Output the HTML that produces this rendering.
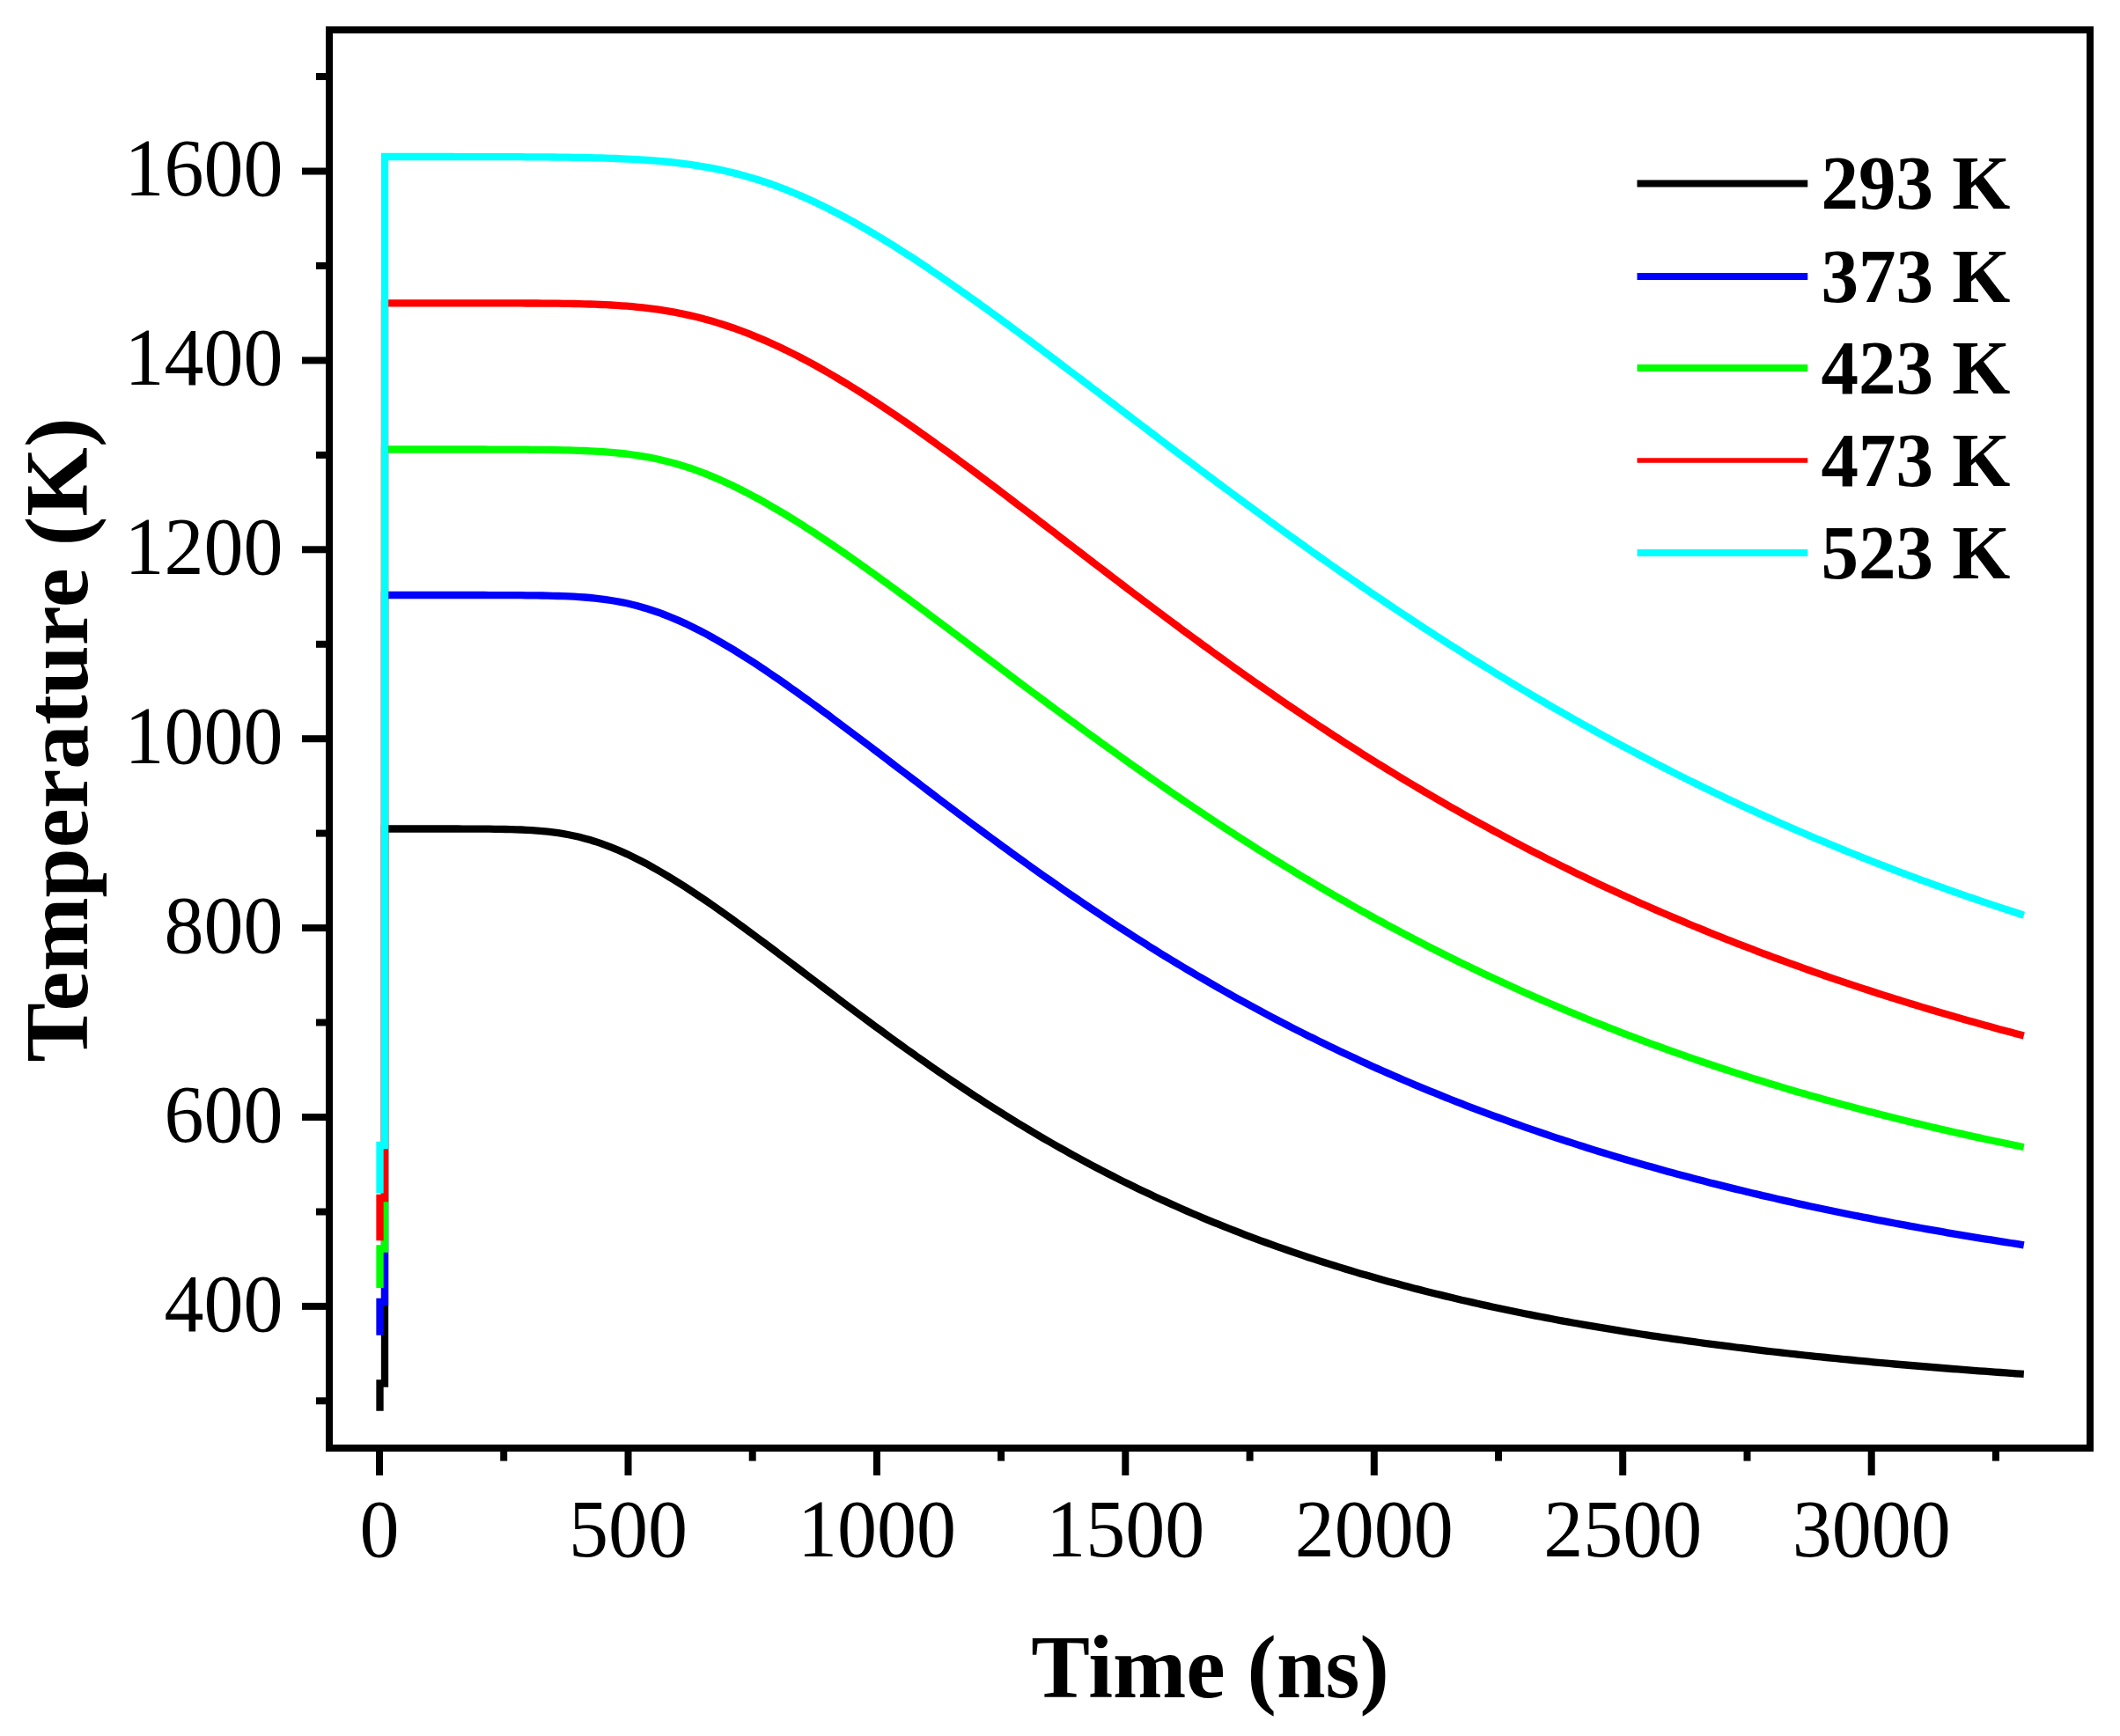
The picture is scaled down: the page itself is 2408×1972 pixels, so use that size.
<!DOCTYPE html>
<html><head><meta charset="utf-8"><title>Temperature vs Time</title>
<style>
html,body{margin:0;padding:0;background:#fff;}
body{width:2408px;height:1972px;overflow:hidden;}
svg{display:block;}
text{font-family:"Liberation Serif",serif;fill:#000;}
.tick{font-size:90px;}
.title{font-size:100px;font-weight:bold;}
.leg{font-size:85px;font-weight:bold;}
</style></head><body>
<svg width="2408" height="1972" viewBox="0 0 2408 1972">
<rect x="0" y="0" width="2408" height="1972" fill="#ffffff"/>
<path d="M431.5,1602.7 L431.5,1571.5 L437,1571.5 L437,941.5 L460.0,941.5 L466.0,941.5 L472.0,941.5 L478.0,941.5 L484.0,941.5 L490.0,941.5 L496.0,941.5 L502.0,941.5 L508.0,941.5 L514.0,941.5 L520.0,941.5 L526.0,941.6 L532.0,941.6 L538.0,941.6 L544.0,941.6 L550.0,941.7 L556.0,941.7 L562.0,941.8 L568.0,941.9 L574.0,942.0 L580.0,942.1 L586.0,942.3 L592.0,942.5 L598.0,942.8 L604.0,943.1 L610.0,943.6 L616.0,944.1 L622.0,944.7 L628.0,945.4 L634.0,946.2 L640.0,947.1 L646.0,948.2 L652.0,949.5 L658.0,950.8 L664.0,952.4 L670.0,954.1 L676.0,955.9 L682.0,957.9 L688.0,960.1 L694.0,962.4 L700.0,964.8 L706.0,967.4 L712.0,970.1 L718.0,973.0 L724.0,976.0 L730.0,979.0 L736.0,982.2 L742.0,985.6 L748.0,989.0 L754.0,992.5 L760.0,996.1 L766.0,999.7 L772.0,1003.5 L778.0,1007.3 L784.0,1011.2 L790.0,1015.2 L796.0,1019.2 L802.0,1023.3 L808.0,1027.4 L814.0,1031.6 L820.0,1035.9 L826.0,1040.1 L832.0,1044.4 L838.0,1048.8 L844.0,1053.2 L850.0,1057.6 L856.0,1062.0 L862.0,1066.5 L868.0,1070.9 L874.0,1075.4 L880.0,1079.9 L886.0,1084.5 L892.0,1089.0 L898.0,1093.5 L904.0,1098.1 L910.0,1102.6 L916.0,1107.2 L922.0,1111.8 L928.0,1116.3 L934.0,1120.9 L940.0,1125.4 L946.0,1129.9 L952.0,1134.5 L958.0,1139.0 L964.0,1143.5 L970.0,1148.0 L976.0,1152.5 L982.0,1156.9 L988.0,1161.4 L994.0,1165.8 L1000.0,1170.2 L1006.0,1174.6 L1012.0,1179.0 L1018.0,1183.3 L1024.0,1187.7 L1030.0,1192.0 L1036.0,1196.2 L1042.0,1200.5 L1048.0,1204.7 L1054.0,1208.9 L1060.0,1213.1 L1066.0,1217.2 L1072.0,1221.4 L1078.0,1225.4 L1084.0,1229.5 L1090.0,1233.5 L1096.0,1237.5 L1102.0,1241.5 L1108.0,1245.4 L1114.0,1249.3 L1120.0,1253.2 L1126.0,1257.0 L1132.0,1260.8 L1138.0,1264.6 L1144.0,1268.3 L1150.0,1272.0 L1156.0,1275.7 L1162.0,1279.3 L1168.0,1282.9 L1174.0,1286.5 L1180.0,1290.1 L1186.0,1293.6 L1192.0,1297.0 L1198.0,1300.5 L1204.0,1303.9 L1210.0,1307.2 L1216.0,1310.6 L1222.0,1313.9 L1228.0,1317.1 L1234.0,1320.4 L1240.0,1323.6 L1246.0,1326.7 L1252.0,1329.9 L1258.0,1333.0 L1264.0,1336.0 L1270.0,1339.1 L1276.0,1342.1 L1282.0,1345.0 L1288.0,1348.0 L1294.0,1350.9 L1300.0,1353.7 L1306.0,1356.6 L1312.0,1359.4 L1318.0,1362.2 L1324.0,1364.9 L1330.0,1367.6 L1336.0,1370.3 L1342.0,1373.0 L1348.0,1375.6 L1354.0,1378.2 L1360.0,1380.8 L1366.0,1383.3 L1372.0,1385.8 L1378.0,1388.3 L1384.0,1390.7 L1390.0,1393.1 L1396.0,1395.5 L1402.0,1397.9 L1408.0,1400.2 L1414.0,1402.5 L1420.0,1404.8 L1426.0,1407.1 L1432.0,1409.3 L1438.0,1411.5 L1444.0,1413.7 L1450.0,1415.8 L1456.0,1417.9 L1462.0,1420.0 L1468.0,1422.1 L1474.0,1424.1 L1480.0,1426.2 L1486.0,1428.2 L1492.0,1430.1 L1498.0,1432.1 L1504.0,1434.0 L1510.0,1435.9 L1516.0,1437.8 L1522.0,1439.6 L1528.0,1441.5 L1534.0,1443.3 L1540.0,1445.1 L1546.0,1446.9 L1552.0,1448.6 L1558.0,1450.3 L1564.0,1452.0 L1570.0,1453.7 L1576.0,1455.4 L1582.0,1457.0 L1588.0,1458.6 L1594.0,1460.2 L1600.0,1461.8 L1606.0,1463.4 L1612.0,1464.9 L1618.0,1466.5 L1624.0,1468.0 L1630.0,1469.5 L1636.0,1470.9 L1642.0,1472.4 L1648.0,1473.8 L1654.0,1475.2 L1660.0,1476.7 L1666.0,1478.0 L1672.0,1479.4 L1678.0,1480.8 L1684.0,1482.1 L1690.0,1483.4 L1696.0,1484.7 L1702.0,1486.0 L1708.0,1487.3 L1714.0,1488.5 L1720.0,1489.8 L1726.0,1491.0 L1732.0,1492.2 L1738.0,1493.4 L1744.0,1494.6 L1750.0,1495.8 L1756.0,1496.9 L1762.0,1498.0 L1768.0,1499.2 L1774.0,1500.3 L1780.0,1501.4 L1786.0,1502.5 L1792.0,1503.5 L1798.0,1504.6 L1804.0,1505.6 L1810.0,1506.7 L1816.0,1507.7 L1822.0,1508.7 L1828.0,1509.7 L1834.0,1510.7 L1840.0,1511.7 L1846.0,1512.6 L1852.0,1513.6 L1858.0,1514.5 L1864.0,1515.5 L1870.0,1516.4 L1876.0,1517.3 L1882.0,1518.2 L1888.0,1519.1 L1894.0,1519.9 L1900.0,1520.8 L1906.0,1521.7 L1912.0,1522.5 L1918.0,1523.4 L1924.0,1524.2 L1930.0,1525.0 L1936.0,1525.8 L1942.0,1526.6 L1948.0,1527.4 L1954.0,1528.2 L1960.0,1528.9 L1966.0,1529.7 L1972.0,1530.5 L1978.0,1531.2 L1984.0,1531.9 L1990.0,1532.7 L1996.0,1533.4 L2002.0,1534.1 L2008.0,1534.8 L2014.0,1535.5 L2020.0,1536.2 L2026.0,1536.8 L2032.0,1537.5 L2038.0,1538.2 L2044.0,1538.8 L2050.0,1539.5 L2056.0,1540.1 L2062.0,1540.8 L2068.0,1541.4 L2074.0,1542.0 L2080.0,1542.6 L2086.0,1543.2 L2092.0,1543.8 L2098.0,1544.4 L2104.0,1545.0 L2110.0,1545.6 L2116.0,1546.1 L2122.0,1546.7 L2128.0,1547.3 L2134.0,1547.8 L2140.0,1548.4 L2146.0,1548.9 L2152.0,1549.5 L2158.0,1550.0 L2164.0,1550.5 L2170.0,1551.0 L2176.0,1551.5 L2182.0,1552.0 L2188.0,1552.5 L2194.0,1553.0 L2200.0,1553.5 L2206.0,1554.0 L2212.0,1554.5 L2218.0,1555.0 L2224.0,1555.4 L2230.0,1555.9 L2236.0,1556.4 L2242.0,1556.8 L2248.0,1557.3 L2254.0,1557.7 L2260.0,1558.2 L2266.0,1558.6 L2272.0,1559.0 L2278.0,1559.4 L2284.0,1559.9 L2290.0,1560.3 L2296.0,1560.7 L2298.8,1560.9" fill="none" stroke="#000000" stroke-width="8.3" stroke-linejoin="miter" stroke-linecap="butt"/>
<path d="M431.5,1516.7 L431.5,1479.0 L437,1479.0 L437,676.0 L460.0,676.0 L466.0,676.0 L472.0,676.0 L478.0,676.0 L484.0,676.0 L490.0,676.0 L496.0,676.0 L502.0,676.0 L508.0,676.0 L514.0,676.0 L520.0,676.0 L526.0,676.0 L532.0,676.0 L538.0,676.0 L544.0,676.0 L550.0,676.0 L556.0,676.1 L562.0,676.1 L568.0,676.1 L574.0,676.1 L580.0,676.1 L586.0,676.2 L592.0,676.2 L598.0,676.3 L604.0,676.3 L610.0,676.4 L616.0,676.5 L622.0,676.6 L628.0,676.8 L634.0,677.0 L640.0,677.2 L646.0,677.4 L652.0,677.7 L658.0,678.1 L664.0,678.5 L670.0,679.0 L676.0,679.6 L682.0,680.3 L688.0,681.1 L694.0,682.0 L700.0,683.0 L706.0,684.1 L712.0,685.3 L718.0,686.7 L724.0,688.2 L730.0,689.9 L736.0,691.7 L742.0,693.7 L748.0,695.7 L754.0,698.0 L760.0,700.3 L766.0,702.8 L772.0,705.4 L778.0,708.1 L784.0,711.0 L790.0,714.0 L796.0,717.0 L802.0,720.2 L808.0,723.5 L814.0,726.8 L820.0,730.3 L826.0,733.8 L832.0,737.4 L838.0,741.1 L844.0,744.9 L850.0,748.7 L856.0,752.6 L862.0,756.5 L868.0,760.5 L874.0,764.6 L880.0,768.7 L886.0,772.8 L892.0,777.0 L898.0,781.3 L904.0,785.5 L910.0,789.8 L916.0,794.2 L922.0,798.5 L928.0,802.9 L934.0,807.3 L940.0,811.7 L946.0,816.2 L952.0,820.7 L958.0,825.2 L964.0,829.7 L970.0,834.2 L976.0,838.7 L982.0,843.3 L988.0,847.8 L994.0,852.4 L1000.0,856.9 L1006.0,861.5 L1012.0,866.1 L1018.0,870.7 L1024.0,875.2 L1030.0,879.8 L1036.0,884.4 L1042.0,888.9 L1048.0,893.5 L1054.0,898.1 L1060.0,902.6 L1066.0,907.2 L1072.0,911.7 L1078.0,916.2 L1084.0,920.7 L1090.0,925.2 L1096.0,929.7 L1102.0,934.2 L1108.0,938.7 L1114.0,943.1 L1120.0,947.6 L1126.0,952.0 L1132.0,956.4 L1138.0,960.8 L1144.0,965.2 L1150.0,969.6 L1156.0,973.9 L1162.0,978.2 L1168.0,982.5 L1174.0,986.8 L1180.0,991.1 L1186.0,995.3 L1192.0,999.5 L1198.0,1003.7 L1204.0,1007.9 L1210.0,1012.1 L1216.0,1016.2 L1222.0,1020.3 L1228.0,1024.4 L1234.0,1028.5 L1240.0,1032.5 L1246.0,1036.5 L1252.0,1040.5 L1258.0,1044.5 L1264.0,1048.4 L1270.0,1052.4 L1276.0,1056.3 L1282.0,1060.1 L1288.0,1064.0 L1294.0,1067.8 L1300.0,1071.6 L1306.0,1075.4 L1312.0,1079.1 L1318.0,1082.9 L1324.0,1086.6 L1330.0,1090.2 L1336.0,1093.9 L1342.0,1097.5 L1348.0,1101.1 L1354.0,1104.6 L1360.0,1108.2 L1366.0,1111.7 L1372.0,1115.2 L1378.0,1118.7 L1384.0,1122.1 L1390.0,1125.5 L1396.0,1128.9 L1402.0,1132.3 L1408.0,1135.6 L1414.0,1138.9 L1420.0,1142.2 L1426.0,1145.4 L1432.0,1148.7 L1438.0,1151.9 L1444.0,1155.1 L1450.0,1158.2 L1456.0,1161.4 L1462.0,1164.5 L1468.0,1167.6 L1474.0,1170.6 L1480.0,1173.6 L1486.0,1176.7 L1492.0,1179.6 L1498.0,1182.6 L1504.0,1185.5 L1510.0,1188.4 L1516.0,1191.3 L1522.0,1194.2 L1528.0,1197.0 L1534.0,1199.8 L1540.0,1202.6 L1546.0,1205.4 L1552.0,1208.1 L1558.0,1210.9 L1564.0,1213.6 L1570.0,1216.2 L1576.0,1218.9 L1582.0,1221.5 L1588.0,1224.1 L1594.0,1226.7 L1600.0,1229.3 L1606.0,1231.8 L1612.0,1234.3 L1618.0,1236.8 L1624.0,1239.3 L1630.0,1241.7 L1636.0,1244.2 L1642.0,1246.6 L1648.0,1249.0 L1654.0,1251.3 L1660.0,1253.7 L1666.0,1256.0 L1672.0,1258.3 L1678.0,1260.6 L1684.0,1262.9 L1690.0,1265.1 L1696.0,1267.3 L1702.0,1269.5 L1708.0,1271.7 L1714.0,1273.9 L1720.0,1276.0 L1726.0,1278.2 L1732.0,1280.3 L1738.0,1282.4 L1744.0,1284.4 L1750.0,1286.5 L1756.0,1288.5 L1762.0,1290.6 L1768.0,1292.6 L1774.0,1294.5 L1780.0,1296.5 L1786.0,1298.4 L1792.0,1300.4 L1798.0,1302.3 L1804.0,1304.2 L1810.0,1306.1 L1816.0,1307.9 L1822.0,1309.8 L1828.0,1311.6 L1834.0,1313.4 L1840.0,1315.2 L1846.0,1317.0 L1852.0,1318.7 L1858.0,1320.5 L1864.0,1322.2 L1870.0,1323.9 L1876.0,1325.6 L1882.0,1327.3 L1888.0,1329.0 L1894.0,1330.7 L1900.0,1332.3 L1906.0,1333.9 L1912.0,1335.5 L1918.0,1337.1 L1924.0,1338.7 L1930.0,1340.3 L1936.0,1341.8 L1942.0,1343.4 L1948.0,1344.9 L1954.0,1346.4 L1960.0,1347.9 L1966.0,1349.4 L1972.0,1350.9 L1978.0,1352.3 L1984.0,1353.8 L1990.0,1355.2 L1996.0,1356.6 L2002.0,1358.1 L2008.0,1359.4 L2014.0,1360.8 L2020.0,1362.2 L2026.0,1363.6 L2032.0,1364.9 L2038.0,1366.2 L2044.0,1367.6 L2050.0,1368.9 L2056.0,1370.2 L2062.0,1371.5 L2068.0,1372.7 L2074.0,1374.0 L2080.0,1375.3 L2086.0,1376.5 L2092.0,1377.7 L2098.0,1379.0 L2104.0,1380.2 L2110.0,1381.4 L2116.0,1382.6 L2122.0,1383.7 L2128.0,1384.9 L2134.0,1386.1 L2140.0,1387.2 L2146.0,1388.4 L2152.0,1389.5 L2158.0,1390.6 L2164.0,1391.7 L2170.0,1392.8 L2176.0,1393.9 L2182.0,1395.0 L2188.0,1396.1 L2194.0,1397.1 L2200.0,1398.2 L2206.0,1399.2 L2212.0,1400.3 L2218.0,1401.3 L2224.0,1402.3 L2230.0,1403.3 L2236.0,1404.3 L2242.0,1405.3 L2248.0,1406.3 L2254.0,1407.3 L2260.0,1408.2 L2266.0,1409.2 L2272.0,1410.1 L2278.0,1411.1 L2284.0,1412.0 L2290.0,1412.9 L2296.0,1413.8 L2298.8,1414.3" fill="none" stroke="#0000ff" stroke-width="8.3" stroke-linejoin="miter" stroke-linecap="butt"/>
<path d="M431.5,1463.0 L431.5,1418.5 L437,1418.5 L437,510.5 L460.0,510.5 L466.0,510.5 L472.0,510.5 L478.0,510.5 L484.0,510.5 L490.0,510.5 L496.0,510.5 L502.0,510.5 L508.0,510.5 L514.0,510.5 L520.0,510.5 L526.0,510.5 L532.0,510.5 L538.0,510.5 L544.0,510.5 L550.0,510.5 L556.0,510.6 L562.0,510.6 L568.0,510.6 L574.0,510.6 L580.0,510.6 L586.0,510.6 L592.0,510.7 L598.0,510.7 L604.0,510.8 L610.0,510.8 L616.0,510.9 L622.0,510.9 L628.0,511.0 L634.0,511.1 L640.0,511.3 L646.0,511.4 L652.0,511.6 L658.0,511.8 L664.0,512.0 L670.0,512.3 L676.0,512.6 L682.0,512.9 L688.0,513.4 L694.0,513.8 L700.0,514.4 L706.0,515.0 L712.0,515.7 L718.0,516.5 L724.0,517.3 L730.0,518.3 L736.0,519.3 L742.0,520.5 L748.0,521.8 L754.0,523.2 L760.0,524.7 L766.0,526.3 L772.0,528.0 L778.0,529.9 L784.0,531.8 L790.0,533.9 L796.0,536.1 L802.0,538.4 L808.0,540.9 L814.0,543.4 L820.0,546.0 L826.0,548.7 L832.0,551.6 L838.0,554.5 L844.0,557.5 L850.0,560.6 L856.0,563.8 L862.0,567.0 L868.0,570.4 L874.0,573.8 L880.0,577.3 L886.0,580.8 L892.0,584.4 L898.0,588.1 L904.0,591.8 L910.0,595.6 L916.0,599.4 L922.0,603.3 L928.0,607.3 L934.0,611.2 L940.0,615.2 L946.0,619.3 L952.0,623.4 L958.0,627.5 L964.0,631.7 L970.0,635.9 L976.0,640.1 L982.0,644.4 L988.0,648.6 L994.0,652.9 L1000.0,657.3 L1006.0,661.6 L1012.0,666.0 L1018.0,670.4 L1024.0,674.8 L1030.0,679.2 L1036.0,683.6 L1042.0,688.1 L1048.0,692.5 L1054.0,697.0 L1060.0,701.5 L1066.0,706.0 L1072.0,710.5 L1078.0,715.0 L1084.0,719.5 L1090.0,724.0 L1096.0,728.5 L1102.0,733.0 L1108.0,737.6 L1114.0,742.1 L1120.0,746.6 L1126.0,751.1 L1132.0,755.6 L1138.0,760.2 L1144.0,764.7 L1150.0,769.2 L1156.0,773.7 L1162.0,778.2 L1168.0,782.7 L1174.0,787.2 L1180.0,791.6 L1186.0,796.1 L1192.0,800.6 L1198.0,805.0 L1204.0,809.5 L1210.0,813.9 L1216.0,818.3 L1222.0,822.7 L1228.0,827.1 L1234.0,831.5 L1240.0,835.9 L1246.0,840.2 L1252.0,844.6 L1258.0,848.9 L1264.0,853.2 L1270.0,857.5 L1276.0,861.8 L1282.0,866.1 L1288.0,870.3 L1294.0,874.5 L1300.0,878.8 L1306.0,883.0 L1312.0,887.1 L1318.0,891.3 L1324.0,895.5 L1330.0,899.6 L1336.0,903.7 L1342.0,907.8 L1348.0,911.9 L1354.0,915.9 L1360.0,919.9 L1366.0,923.9 L1372.0,927.9 L1378.0,931.9 L1384.0,935.9 L1390.0,939.8 L1396.0,943.7 L1402.0,947.6 L1408.0,951.5 L1414.0,955.3 L1420.0,959.1 L1426.0,962.9 L1432.0,966.7 L1438.0,970.5 L1444.0,974.2 L1450.0,977.9 L1456.0,981.6 L1462.0,985.3 L1468.0,988.9 L1474.0,992.6 L1480.0,996.2 L1486.0,999.7 L1492.0,1003.3 L1498.0,1006.8 L1504.0,1010.4 L1510.0,1013.9 L1516.0,1017.3 L1522.0,1020.8 L1528.0,1024.2 L1534.0,1027.6 L1540.0,1031.0 L1546.0,1034.3 L1552.0,1037.7 L1558.0,1041.0 L1564.0,1044.3 L1570.0,1047.5 L1576.0,1050.8 L1582.0,1054.0 L1588.0,1057.2 L1594.0,1060.4 L1600.0,1063.5 L1606.0,1066.7 L1612.0,1069.8 L1618.0,1072.9 L1624.0,1076.0 L1630.0,1079.0 L1636.0,1082.0 L1642.0,1085.0 L1648.0,1088.0 L1654.0,1091.0 L1660.0,1093.9 L1666.0,1096.8 L1672.0,1099.7 L1678.0,1102.6 L1684.0,1105.4 L1690.0,1108.2 L1696.0,1111.1 L1702.0,1113.8 L1708.0,1116.6 L1714.0,1119.3 L1720.0,1122.1 L1726.0,1124.8 L1732.0,1127.5 L1738.0,1130.1 L1744.0,1132.8 L1750.0,1135.4 L1756.0,1138.0 L1762.0,1140.5 L1768.0,1143.1 L1774.0,1145.6 L1780.0,1148.2 L1786.0,1150.7 L1792.0,1153.1 L1798.0,1155.6 L1804.0,1158.0 L1810.0,1160.5 L1816.0,1162.9 L1822.0,1165.2 L1828.0,1167.6 L1834.0,1169.9 L1840.0,1172.3 L1846.0,1174.6 L1852.0,1176.9 L1858.0,1179.1 L1864.0,1181.4 L1870.0,1183.6 L1876.0,1185.8 L1882.0,1188.0 L1888.0,1190.2 L1894.0,1192.4 L1900.0,1194.5 L1906.0,1196.6 L1912.0,1198.7 L1918.0,1200.8 L1924.0,1202.9 L1930.0,1205.0 L1936.0,1207.0 L1942.0,1209.0 L1948.0,1211.0 L1954.0,1213.0 L1960.0,1215.0 L1966.0,1216.9 L1972.0,1218.9 L1978.0,1220.8 L1984.0,1222.7 L1990.0,1224.6 L1996.0,1226.5 L2002.0,1228.3 L2008.0,1230.2 L2014.0,1232.0 L2020.0,1233.8 L2026.0,1235.6 L2032.0,1237.4 L2038.0,1239.2 L2044.0,1240.9 L2050.0,1242.6 L2056.0,1244.4 L2062.0,1246.1 L2068.0,1247.8 L2074.0,1249.5 L2080.0,1251.1 L2086.0,1252.8 L2092.0,1254.4 L2098.0,1256.0 L2104.0,1257.6 L2110.0,1259.2 L2116.0,1260.8 L2122.0,1262.4 L2128.0,1263.9 L2134.0,1265.5 L2140.0,1267.0 L2146.0,1268.5 L2152.0,1270.0 L2158.0,1271.5 L2164.0,1273.0 L2170.0,1274.5 L2176.0,1275.9 L2182.0,1277.3 L2188.0,1278.8 L2194.0,1280.2 L2200.0,1281.6 L2206.0,1283.0 L2212.0,1284.4 L2218.0,1285.7 L2224.0,1287.1 L2230.0,1288.4 L2236.0,1289.8 L2242.0,1291.1 L2248.0,1292.4 L2254.0,1293.7 L2260.0,1295.0 L2266.0,1296.3 L2272.0,1297.5 L2278.0,1298.8 L2284.0,1300.0 L2290.0,1301.2 L2296.0,1302.5 L2298.8,1303.0" fill="none" stroke="#00ff00" stroke-width="8.3" stroke-linejoin="miter" stroke-linecap="butt"/>
<path d="M431.5,1409.3 L431.5,1361.0 L437,1361.0 L437,344.3 L460.0,344.3 L466.0,344.3 L472.0,344.3 L478.0,344.3 L484.0,344.3 L490.0,344.3 L496.0,344.3 L502.0,344.3 L508.0,344.3 L514.0,344.3 L520.0,344.3 L526.0,344.3 L532.0,344.3 L538.0,344.3 L544.0,344.3 L550.0,344.3 L556.0,344.3 L562.0,344.4 L568.0,344.4 L574.0,344.4 L580.0,344.4 L586.0,344.4 L592.0,344.4 L598.0,344.5 L604.0,344.5 L610.0,344.5 L616.0,344.6 L622.0,344.6 L628.0,344.7 L634.0,344.7 L640.0,344.8 L646.0,344.9 L652.0,345.0 L658.0,345.2 L664.0,345.3 L670.0,345.5 L676.0,345.7 L682.0,346.0 L688.0,346.2 L694.0,346.5 L700.0,346.9 L706.0,347.3 L712.0,347.7 L718.0,348.2 L724.0,348.8 L730.0,349.4 L736.0,350.1 L742.0,350.9 L748.0,351.7 L754.0,352.6 L760.0,353.6 L766.0,354.7 L772.0,355.8 L778.0,357.1 L784.0,358.4 L790.0,359.8 L796.0,361.3 L802.0,362.9 L808.0,364.6 L814.0,366.4 L820.0,368.2 L826.0,370.2 L832.0,372.2 L838.0,374.4 L844.0,376.6 L850.0,378.9 L856.0,381.3 L862.0,383.8 L868.0,386.4 L874.0,389.0 L880.0,391.8 L886.0,394.6 L892.0,397.4 L898.0,400.4 L904.0,403.4 L910.0,406.5 L916.0,409.7 L922.0,412.9 L928.0,416.2 L934.0,419.6 L940.0,423.0 L946.0,426.5 L952.0,430.1 L958.0,433.6 L964.0,437.3 L970.0,441.0 L976.0,444.8 L982.0,448.6 L988.0,452.4 L994.0,456.3 L1000.0,460.2 L1006.0,464.2 L1012.0,468.2 L1018.0,472.3 L1024.0,476.4 L1030.0,480.5 L1036.0,484.7 L1042.0,488.9 L1048.0,493.1 L1054.0,497.4 L1060.0,501.7 L1066.0,506.0 L1072.0,510.4 L1078.0,514.7 L1084.0,519.1 L1090.0,523.5 L1096.0,528.0 L1102.0,532.4 L1108.0,536.9 L1114.0,541.4 L1120.0,545.9 L1126.0,550.4 L1132.0,554.9 L1138.0,559.5 L1144.0,564.0 L1150.0,568.6 L1156.0,573.2 L1162.0,577.7 L1168.0,582.3 L1174.0,586.9 L1180.0,591.5 L1186.0,596.1 L1192.0,600.7 L1198.0,605.3 L1204.0,610.0 L1210.0,614.6 L1216.0,619.2 L1222.0,623.8 L1228.0,628.4 L1234.0,633.0 L1240.0,637.6 L1246.0,642.2 L1252.0,646.8 L1258.0,651.4 L1264.0,656.0 L1270.0,660.5 L1276.0,665.1 L1282.0,669.7 L1288.0,674.2 L1294.0,678.8 L1300.0,683.3 L1306.0,687.8 L1312.0,692.3 L1318.0,696.8 L1324.0,701.3 L1330.0,705.8 L1336.0,710.2 L1342.0,714.7 L1348.0,719.1 L1354.0,723.5 L1360.0,727.9 L1366.0,732.3 L1372.0,736.7 L1378.0,741.0 L1384.0,745.4 L1390.0,749.7 L1396.0,754.0 L1402.0,758.3 L1408.0,762.6 L1414.0,766.8 L1420.0,771.1 L1426.0,775.3 L1432.0,779.5 L1438.0,783.7 L1444.0,787.8 L1450.0,792.0 L1456.0,796.1 L1462.0,800.2 L1468.0,804.3 L1474.0,808.3 L1480.0,812.4 L1486.0,816.4 L1492.0,820.4 L1498.0,824.4 L1504.0,828.3 L1510.0,832.3 L1516.0,836.2 L1522.0,840.1 L1528.0,843.9 L1534.0,847.8 L1540.0,851.6 L1546.0,855.4 L1552.0,859.2 L1558.0,863.0 L1564.0,866.7 L1570.0,870.4 L1576.0,874.1 L1582.0,877.8 L1588.0,881.5 L1594.0,885.1 L1600.0,888.7 L1606.0,892.3 L1612.0,895.9 L1618.0,899.4 L1624.0,902.9 L1630.0,906.4 L1636.0,909.9 L1642.0,913.4 L1648.0,916.8 L1654.0,920.2 L1660.0,923.6 L1666.0,927.0 L1672.0,930.3 L1678.0,933.6 L1684.0,936.9 L1690.0,940.2 L1696.0,943.5 L1702.0,946.7 L1708.0,949.9 L1714.0,953.1 L1720.0,956.3 L1726.0,959.4 L1732.0,962.6 L1738.0,965.7 L1744.0,968.8 L1750.0,971.8 L1756.0,974.9 L1762.0,977.9 L1768.0,980.9 L1774.0,983.9 L1780.0,986.8 L1786.0,989.8 L1792.0,992.7 L1798.0,995.6 L1804.0,998.5 L1810.0,1001.3 L1816.0,1004.2 L1822.0,1007.0 L1828.0,1009.8 L1834.0,1012.6 L1840.0,1015.3 L1846.0,1018.1 L1852.0,1020.8 L1858.0,1023.5 L1864.0,1026.2 L1870.0,1028.8 L1876.0,1031.5 L1882.0,1034.1 L1888.0,1036.7 L1894.0,1039.3 L1900.0,1041.9 L1906.0,1044.4 L1912.0,1046.9 L1918.0,1049.5 L1924.0,1052.0 L1930.0,1054.4 L1936.0,1056.9 L1942.0,1059.3 L1948.0,1061.8 L1954.0,1064.2 L1960.0,1066.5 L1966.0,1068.9 L1972.0,1071.3 L1978.0,1073.6 L1984.0,1075.9 L1990.0,1078.2 L1996.0,1080.5 L2002.0,1082.8 L2008.0,1085.0 L2014.0,1087.3 L2020.0,1089.5 L2026.0,1091.7 L2032.0,1093.9 L2038.0,1096.0 L2044.0,1098.2 L2050.0,1100.3 L2056.0,1102.5 L2062.0,1104.6 L2068.0,1106.7 L2074.0,1108.7 L2080.0,1110.8 L2086.0,1112.9 L2092.0,1114.9 L2098.0,1116.9 L2104.0,1118.9 L2110.0,1120.9 L2116.0,1122.9 L2122.0,1124.8 L2128.0,1126.8 L2134.0,1128.7 L2140.0,1130.6 L2146.0,1132.5 L2152.0,1134.4 L2158.0,1136.3 L2164.0,1138.1 L2170.0,1140.0 L2176.0,1141.8 L2182.0,1143.6 L2188.0,1145.4 L2194.0,1147.2 L2200.0,1149.0 L2206.0,1150.8 L2212.0,1152.5 L2218.0,1154.3 L2224.0,1156.0 L2230.0,1157.7 L2236.0,1159.4 L2242.0,1161.1 L2248.0,1162.8 L2254.0,1164.5 L2260.0,1166.1 L2266.0,1167.8 L2272.0,1169.4 L2278.0,1171.0 L2284.0,1172.6 L2290.0,1174.2 L2296.0,1175.8 L2298.8,1176.5" fill="none" stroke="#ff0000" stroke-width="8.3" stroke-linejoin="miter" stroke-linecap="butt"/>
<path d="M431.5,1355.5 L431.5,1301.0 L437,1301.0 L437,178.0 L460.0,178.0 L466.0,178.0 L472.0,178.0 L478.0,178.0 L484.0,178.0 L490.0,178.0 L496.0,178.0 L502.0,178.0 L508.0,178.0 L514.0,178.0 L520.0,178.1 L526.0,178.1 L532.0,178.1 L538.0,178.1 L544.0,178.1 L550.0,178.1 L556.0,178.1 L562.0,178.1 L568.0,178.1 L574.0,178.2 L580.0,178.2 L586.0,178.2 L592.0,178.2 L598.0,178.3 L604.0,178.3 L610.0,178.3 L616.0,178.4 L622.0,178.4 L628.0,178.5 L634.0,178.6 L640.0,178.6 L646.0,178.7 L652.0,178.8 L658.0,178.9 L664.0,179.0 L670.0,179.1 L676.0,179.3 L682.0,179.4 L688.0,179.6 L694.0,179.8 L700.0,180.0 L706.0,180.3 L712.0,180.6 L718.0,180.9 L724.0,181.2 L730.0,181.6 L736.0,182.0 L742.0,182.4 L748.0,182.9 L754.0,183.4 L760.0,184.0 L766.0,184.7 L772.0,185.4 L778.0,186.1 L784.0,186.9 L790.0,187.8 L796.0,188.8 L802.0,189.8 L808.0,190.9 L814.0,192.1 L820.0,193.3 L826.0,194.7 L832.0,196.1 L838.0,197.6 L844.0,199.2 L850.0,200.9 L856.0,202.7 L862.0,204.5 L868.0,206.5 L874.0,208.5 L880.0,210.7 L886.0,212.9 L892.0,215.2 L898.0,217.6 L904.0,220.0 L910.0,222.6 L916.0,225.3 L922.0,228.0 L928.0,230.8 L934.0,233.7 L940.0,236.6 L946.0,239.7 L952.0,242.8 L958.0,246.0 L964.0,249.2 L970.0,252.5 L976.0,255.9 L982.0,259.3 L988.0,262.8 L994.0,266.3 L1000.0,270.0 L1006.0,273.6 L1012.0,277.3 L1018.0,281.1 L1024.0,284.9 L1030.0,288.7 L1036.0,292.6 L1042.0,296.5 L1048.0,300.5 L1054.0,304.5 L1060.0,308.6 L1066.0,312.6 L1072.0,316.8 L1078.0,320.9 L1084.0,325.1 L1090.0,329.3 L1096.0,333.5 L1102.0,337.8 L1108.0,342.0 L1114.0,346.3 L1120.0,350.7 L1126.0,355.0 L1132.0,359.4 L1138.0,363.8 L1144.0,368.2 L1150.0,372.6 L1156.0,377.0 L1162.0,381.5 L1168.0,385.9 L1174.0,390.4 L1180.0,394.9 L1186.0,399.4 L1192.0,403.9 L1198.0,408.4 L1204.0,412.9 L1210.0,417.5 L1216.0,422.0 L1222.0,426.5 L1228.0,431.1 L1234.0,435.6 L1240.0,440.2 L1246.0,444.8 L1252.0,449.3 L1258.0,453.9 L1264.0,458.4 L1270.0,463.0 L1276.0,467.6 L1282.0,472.1 L1288.0,476.7 L1294.0,481.3 L1300.0,485.8 L1306.0,490.4 L1312.0,494.9 L1318.0,499.5 L1324.0,504.0 L1330.0,508.6 L1336.0,513.1 L1342.0,517.6 L1348.0,522.1 L1354.0,526.6 L1360.0,531.2 L1366.0,535.7 L1372.0,540.1 L1378.0,544.6 L1384.0,549.1 L1390.0,553.6 L1396.0,558.0 L1402.0,562.5 L1408.0,566.9 L1414.0,571.3 L1420.0,575.7 L1426.0,580.1 L1432.0,584.5 L1438.0,588.9 L1444.0,593.3 L1450.0,597.6 L1456.0,602.0 L1462.0,606.3 L1468.0,610.6 L1474.0,614.9 L1480.0,619.2 L1486.0,623.5 L1492.0,627.8 L1498.0,632.0 L1504.0,636.2 L1510.0,640.5 L1516.0,644.7 L1522.0,648.9 L1528.0,653.0 L1534.0,657.2 L1540.0,661.3 L1546.0,665.5 L1552.0,669.6 L1558.0,673.7 L1564.0,677.7 L1570.0,681.8 L1576.0,685.8 L1582.0,689.9 L1588.0,693.9 L1594.0,697.9 L1600.0,701.8 L1606.0,705.8 L1612.0,709.7 L1618.0,713.7 L1624.0,717.6 L1630.0,721.5 L1636.0,725.3 L1642.0,729.2 L1648.0,733.0 L1654.0,736.8 L1660.0,740.6 L1666.0,744.4 L1672.0,748.2 L1678.0,751.9 L1684.0,755.6 L1690.0,759.3 L1696.0,763.0 L1702.0,766.7 L1708.0,770.3 L1714.0,774.0 L1720.0,777.6 L1726.0,781.2 L1732.0,784.8 L1738.0,788.3 L1744.0,791.8 L1750.0,795.4 L1756.0,798.9 L1762.0,802.3 L1768.0,805.8 L1774.0,809.2 L1780.0,812.7 L1786.0,816.1 L1792.0,819.4 L1798.0,822.8 L1804.0,826.2 L1810.0,829.5 L1816.0,832.8 L1822.0,836.1 L1828.0,839.3 L1834.0,842.6 L1840.0,845.8 L1846.0,849.0 L1852.0,852.2 L1858.0,855.4 L1864.0,858.5 L1870.0,861.7 L1876.0,864.8 L1882.0,867.9 L1888.0,871.0 L1894.0,874.0 L1900.0,877.1 L1906.0,880.1 L1912.0,883.1 L1918.0,886.1 L1924.0,889.0 L1930.0,892.0 L1936.0,894.9 L1942.0,897.8 L1948.0,900.7 L1954.0,903.6 L1960.0,906.4 L1966.0,909.3 L1972.0,912.1 L1978.0,914.9 L1984.0,917.7 L1990.0,920.4 L1996.0,923.2 L2002.0,925.9 L2008.0,928.6 L2014.0,931.3 L2020.0,934.0 L2026.0,936.6 L2032.0,939.2 L2038.0,941.9 L2044.0,944.5 L2050.0,947.0 L2056.0,949.6 L2062.0,952.2 L2068.0,954.7 L2074.0,957.2 L2080.0,959.7 L2086.0,962.2 L2092.0,964.6 L2098.0,967.1 L2104.0,969.5 L2110.0,971.9 L2116.0,974.3 L2122.0,976.7 L2128.0,979.1 L2134.0,981.4 L2140.0,983.7 L2146.0,986.0 L2152.0,988.3 L2158.0,990.6 L2164.0,992.9 L2170.0,995.1 L2176.0,997.3 L2182.0,999.6 L2188.0,1001.7 L2194.0,1003.9 L2200.0,1006.1 L2206.0,1008.2 L2212.0,1010.4 L2218.0,1012.5 L2224.0,1014.6 L2230.0,1016.7 L2236.0,1018.8 L2242.0,1020.8 L2248.0,1022.9 L2254.0,1024.9 L2260.0,1026.9 L2266.0,1028.9 L2272.0,1030.9 L2278.0,1032.9 L2284.0,1034.8 L2290.0,1036.8 L2296.0,1038.7 L2298.8,1039.6" fill="none" stroke="#00ffff" stroke-width="8.3" stroke-linejoin="miter" stroke-linecap="butt"/>
<rect x="374" y="33.9" width="2000" height="1611" fill="none" stroke="#000" stroke-width="8"/>
<line x1="359" y1="1591.3" x2="372" y2="1591.3" stroke="#000" stroke-width="8"/>
<line x1="343" y1="1483.9" x2="372" y2="1483.9" stroke="#000" stroke-width="8"/>
<text class="tick" transform="translate(321.5,1511.7) scale(1,1.03)" text-anchor="end">400</text>
<line x1="359" y1="1376.5" x2="372" y2="1376.5" stroke="#000" stroke-width="8"/>
<line x1="343" y1="1269.0" x2="372" y2="1269.0" stroke="#000" stroke-width="8"/>
<text class="tick" transform="translate(321.5,1296.8) scale(1,1.03)" text-anchor="end">600</text>
<line x1="359" y1="1161.5" x2="372" y2="1161.5" stroke="#000" stroke-width="8"/>
<line x1="343" y1="1054.1" x2="372" y2="1054.1" stroke="#000" stroke-width="8"/>
<text class="tick" transform="translate(321.5,1081.9) scale(1,1.03)" text-anchor="end">800</text>
<line x1="359" y1="946.6" x2="372" y2="946.6" stroke="#000" stroke-width="8"/>
<line x1="343" y1="839.2" x2="372" y2="839.2" stroke="#000" stroke-width="8"/>
<text class="tick" transform="translate(321.5,867.0) scale(1,1.03)" text-anchor="end">1000</text>
<line x1="359" y1="731.8" x2="372" y2="731.8" stroke="#000" stroke-width="8"/>
<line x1="343" y1="624.3" x2="372" y2="624.3" stroke="#000" stroke-width="8"/>
<text class="tick" transform="translate(321.5,652.1) scale(1,1.03)" text-anchor="end">1200</text>
<line x1="359" y1="516.9" x2="372" y2="516.9" stroke="#000" stroke-width="8"/>
<line x1="343" y1="409.4" x2="372" y2="409.4" stroke="#000" stroke-width="8"/>
<text class="tick" transform="translate(321.5,437.2) scale(1,1.03)" text-anchor="end">1400</text>
<line x1="359" y1="301.9" x2="372" y2="301.9" stroke="#000" stroke-width="8"/>
<line x1="343" y1="194.5" x2="372" y2="194.5" stroke="#000" stroke-width="8"/>
<text class="tick" transform="translate(321.5,222.3) scale(1,1.03)" text-anchor="end">1600</text>
<line x1="359" y1="87.0" x2="372" y2="87.0" stroke="#000" stroke-width="8"/>
<line x1="431.0" y1="1647" x2="431.0" y2="1676" stroke="#000" stroke-width="8"/>
<text class="tick" transform="translate(431.0,1768.3) scale(1,1.03)" text-anchor="middle">0</text>
<line x1="572.2" y1="1647" x2="572.2" y2="1659.6" stroke="#000" stroke-width="8"/>
<line x1="713.5" y1="1647" x2="713.5" y2="1676" stroke="#000" stroke-width="8"/>
<text class="tick" transform="translate(713.5,1768.3) scale(1,1.03)" text-anchor="middle">500</text>
<line x1="854.7" y1="1647" x2="854.7" y2="1659.6" stroke="#000" stroke-width="8"/>
<line x1="995.9" y1="1647" x2="995.9" y2="1676" stroke="#000" stroke-width="8"/>
<text class="tick" transform="translate(995.9,1768.3) scale(1,1.03)" text-anchor="middle">1000</text>
<line x1="1137.1" y1="1647" x2="1137.1" y2="1659.6" stroke="#000" stroke-width="8"/>
<line x1="1278.3" y1="1647" x2="1278.3" y2="1676" stroke="#000" stroke-width="8"/>
<text class="tick" transform="translate(1278.3,1768.3) scale(1,1.03)" text-anchor="middle">1500</text>
<line x1="1419.6" y1="1647" x2="1419.6" y2="1659.6" stroke="#000" stroke-width="8"/>
<line x1="1560.8" y1="1647" x2="1560.8" y2="1676" stroke="#000" stroke-width="8"/>
<text class="tick" transform="translate(1560.8,1768.3) scale(1,1.03)" text-anchor="middle">2000</text>
<line x1="1702.0" y1="1647" x2="1702.0" y2="1659.6" stroke="#000" stroke-width="8"/>
<line x1="1843.2" y1="1647" x2="1843.2" y2="1676" stroke="#000" stroke-width="8"/>
<text class="tick" transform="translate(1843.2,1768.3) scale(1,1.03)" text-anchor="middle">2500</text>
<line x1="1984.5" y1="1647" x2="1984.5" y2="1659.6" stroke="#000" stroke-width="8"/>
<line x1="2125.7" y1="1647" x2="2125.7" y2="1676" stroke="#000" stroke-width="8"/>
<text class="tick" transform="translate(2125.7,1768.3) scale(1,1.03)" text-anchor="middle">3000</text>
<line x1="2266.9" y1="1647" x2="2266.9" y2="1659.6" stroke="#000" stroke-width="8"/>
<text class="title" transform="translate(1374.5,1927.5) scale(1,1.01)" text-anchor="middle">Time (ns)</text>
<text class="title" style="font-size:101px" transform="translate(99,840.5) rotate(-90)" text-anchor="middle">Temperature (K)</text>
<line x1="1859.5" y1="208.4" x2="2053.25" y2="208.4" stroke="#000000" stroke-width="8"/>
<text class="leg" transform="translate(2068.5,236.5) scale(1,1.03)">293 K</text>
<line x1="1859.5" y1="314.1" x2="2053.25" y2="314.1" stroke="#0000ff" stroke-width="8"/>
<text class="leg" transform="translate(2068.5,342.5) scale(1,1.03)">373 K</text>
<line x1="1859.5" y1="418.1" x2="2053.25" y2="418.1" stroke="#00ff00" stroke-width="8"/>
<text class="leg" transform="translate(2068.5,446.5) scale(1,1.03)">423 K</text>
<line x1="1859.5" y1="523.1" x2="2053.25" y2="523.1" stroke="#ff0000" stroke-width="5.5"/>
<text class="leg" transform="translate(2068.5,552.0) scale(1,1.03)">473 K</text>
<line x1="1859.5" y1="627.9" x2="2053.25" y2="627.9" stroke="#00ffff" stroke-width="8"/>
<text class="leg" transform="translate(2068.5,656.5) scale(1,1.03)">523 K</text>
</svg></body></html>
